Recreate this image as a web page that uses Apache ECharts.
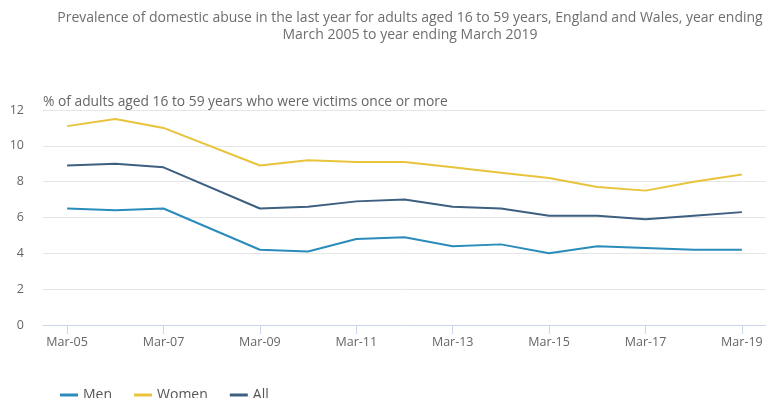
<!DOCTYPE html>
<html>
<head>
    <meta charset="UTF-8">
    <title>Domestic abuse prevalence</title>
    <script src="https://cdn.jsdelivr.net/npm/echarts@6/dist/echarts.min.js"></script>
    <style>
        html, body { margin: 0; padding: 0; background: #fff; }
        #chart { width: 766px; height: 398px; }
    </style>
</head>
<body>
<div id="chart"></div>
<script type="text/javascript">
    // year ending March; Mar-08 has no point in the source, line joins across it
    var years = ['Mar-05', 'Mar-06', 'Mar-07', 'Mar-08', 'Mar-09', 'Mar-10', 'Mar-11', 'Mar-12',
                 'Mar-13', 'Mar-14', 'Mar-15', 'Mar-16', 'Mar-17', 'Mar-18', 'Mar-19'];
    var men   = [6.5, 6.4, 6.5, null, 4.2, 4.1, 4.8, 4.9, 4.4, 4.5, 4.0, 4.4, 4.3, 4.2, 4.2];
    var women = [11.1, 11.5, 11.0, null, 8.9, 9.2, 9.1, 9.1, 8.8, 8.5, 8.2, 7.7, 7.5, 8.0, 8.4];
    var all   = [8.9, 9.0, 8.8, null, 6.5, 6.6, 6.9, 7.0, 6.6, 6.5, 6.1, 6.1, 5.9, 6.1, 6.3];
    var yTicks = [0, 2, 4, 6, 8, 10, 12];

    var font = '"Open Sans", "Noto Sans", sans-serif';
    var colors = ['#2a8cba', '#e8c33c', '#3d5f80'];
    var chart = echarts.init(document.getElementById('chart'));

    function line(name, data, color) {
        return {
            name: name,
            type: 'line',
            data: data,
            connectNulls: true,
            symbol: 'none',
            lineStyle: { color: color, width: 2 },
            itemStyle: { color: color }
        };
    }

    chart.setOption({
        animation: false,
        color: colors,
        title: {
            text: 'Prevalence of domestic abuse in the last year for adults aged 16 to 59 years, England and Wales, year ending\nMarch 2005 to year ending March 2019',
            left: 405,
            textAlign: 'center',
            top: 5,
            textStyle: { fontFamily: font, fontSize: 14, fontWeight: 'normal', color: '#6e6e6e', lineHeight: 17 }
        },
        legend: {
            left: 55,
            top: 383,
            icon: 'rect',
            itemWidth: 18,
            itemHeight: 3,
            itemGap: 22,
            textStyle: { fontFamily: font, fontSize: 14, color: '#555', padding: [4, 0, 0, 0] },
            data: [
                { name: 'Men', itemStyle: { color: colors[0] } },
                { name: 'Women', itemStyle: { color: colors[1] } },
                { name: 'All', itemStyle: { color: colors[2] } }
            ]
        },
        grid: { left: 43, right: 0, top: 110, bottom: 73 },
        xAxis: {
            type: 'category',
            data: years,
            boundaryGap: true,
            axisLine: { lineStyle: { color: '#ccd6eb' } },
            axisTick: { show: true, alignWithLabel: true, interval: 1, length: 9, lineStyle: { color: '#ccd6eb' } },
            axisLabel: { interval: 1, margin: 11, fontFamily: font, fontSize: 12.5, color: '#666' }
        },
        yAxis: {
            type: 'value',
            min: yTicks[0],
            max: yTicks[yTicks.length - 1],
            interval: 2,
            name: '% of adults aged 16 to 59 years who were victims once or more',
            nameLocation: 'end',
            nameGap: 1,
            nameTextStyle: { fontFamily: font, fontSize: 13.8, color: '#666', align: 'left' },
            axisLine: { show: false },
            axisTick: { show: false },
            axisLabel: { margin: 19, fontFamily: font, fontSize: 12.5, color: '#666' },
            splitLine: { lineStyle: { color: '#e6e6e6' } }
        },
        series: [
            line('Men', men, colors[0]),
            line('Women', women, colors[1]),
            line('All', all, colors[2])
        ]
    });
</script>
</body>
</html>
